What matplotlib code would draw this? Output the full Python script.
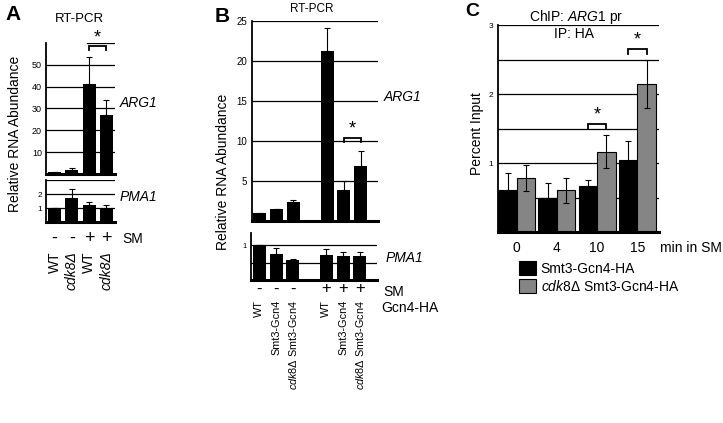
import numpy as np
import matplotlib.pyplot as plt
from matplotlib.transforms import blended_transform_factory

plt.rcParams['font.family'] = ['Liberation Sans', 'DejaVu Sans']
plt.rcParams['mathtext.fontset'] = 'custom'
plt.rcParams['mathtext.rm'] = 'Liberation Sans'
plt.rcParams['mathtext.it'] = 'Liberation Sans:italic'

# ---- panel A data ----
a_pos = [0, 1, 2, 3]
a_arg1 = [1.1, 1.8, 41.0, 27.0]
a_arg1_err = [0.0, 0.8, 12.5, 6.8]
a_pma1 = [1.0, 1.74, 1.24, 0.95]
a_pma1_err = [0.0, 0.64, 0.2, 0.25]
a_sm = ['-', '-', '+', '+']
a_strain = ['WT', 'cdk8Δ', 'WT', 'cdk8Δ']
a_strain_it = [False, True, False, True]
a_sig = (2, 3, 56.6, 58.5)   # bar i, bar j, tick bottom, bracket top

# ---- panel B data ----
b_pos = [0, 1, 2, 4, 5, 6]
b_arg1 = [1.05, 1.55, 2.4, 21.2, 3.9, 6.9]
b_arg1_err = [0.0, 0.0, 0.2, 2.9, 1.1, 1.9]
b_pma1 = [1.0, 0.76, 0.59, 0.73, 0.68, 0.70]
b_pma1_err = [0.0, 0.16, 0.01, 0.17, 0.13, 0.12]
b_sm = ['-', '-', '-', '+', '+', '+']
b_strain = ['WT', 'Smt3-Gcn4', r'$\it{cdk8Δ}$ Smt3-Gcn4',
            'WT', 'Smt3-Gcn4', r'$\it{cdk8Δ}$ Smt3-Gcn4']
b_sig = (4, 5, 9.9, 10.4)

# ---- panel C data ----
c_times = ['0', '4', '10', '15']
c_wt = [0.61, 0.50, 0.67, 1.05]
c_wt_err = [0.25, 0.21, 0.09, 0.27]
c_cdk8 = [0.79, 0.61, 1.17, 2.15]
c_cdk8_err = [0.19, 0.18, 0.24, 0.35]
c_sig = [(2, 1.49, 1.57), (3, 2.58, 2.66)]

W, H = 723, 423


def box(l, t, r, b):
    return [l / W, 1 - b / H, (r - l) / W, (b - t) / H]


def fy(y):
    return 1 - y / H


def style(ax, tick_size):
    for s in ['top', 'right']:
        ax.spines[s].set_visible(False)
    ax.spines['left'].set_linewidth(1.3)
    ax.spines['bottom'].set_linewidth(2.2)
    ax.tick_params(axis='both', length=0, labelsize=tick_size, pad=3)
    ax.set_xticks([])
    ax.yaxis.grid(True, color='black', lw=0.9)
    ax.set_axisbelow(True)


def bracket(ax, x1, x2, y0, y1):
    ax.plot([x1, x1, x2, x2], [y0, y1, y1, y0], color='black', lw=1.3,
            clip_on=False, solid_joinstyle='miter')
    ax.text((x1 + x2) / 2, y1, '*', ha='center', va='bottom', fontsize=13,
            clip_on=False)


ekw = dict(ecolor='black', lw=0.8, capsize=2, capthick=0.8)

fig = plt.figure(figsize=(W / 100, H / 100), dpi=100)

# ================= panel A =================
axA = fig.add_axes(box(46, 43, 115, 174))
style(axA, 6.5)
axA.bar(a_pos, a_arg1, 0.75, color='black',
        yerr=[np.zeros(4), a_arg1_err], error_kw=ekw)
axA.set_xlim(-0.5, 3.5)
axA.set_ylim(0, 60)
axA.set_yticks([10, 20, 30, 40, 50])
axA.axhline(60, xmin=0.6, color='black', lw=0.9)
bracket(axA, a_pos[a_sig[0]], a_pos[a_sig[1]], a_sig[2], a_sig[3])

axA2 = fig.add_axes(box(46, 180, 115, 222.3))
style(axA2, 6)
axA2.bar(a_pos, a_pma1, 0.75, color='black',
         yerr=[np.zeros(4), a_pma1_err], error_kw=ekw)
axA2.set_xlim(-0.5, 3.5)
axA2.set_ylim(0, 3)
axA2.set_yticks([1, 2, 3])
axA2.set_yticklabels(['1', '2', ''])

trA = blended_transform_factory(axA2.transData, fig.transFigure)
for x, s, lab, it in zip(a_pos, a_sm, a_strain, a_strain_it):
    axA2.text(x, fy(238), s, transform=trA, ha='center', va='center',
              fontsize=13)
    axA2.text(x, fy(251), lab, transform=trA, ha='center', va='top',
              rotation=90, fontsize=10, style='italic' if it else 'normal')
fig.text(122.5 / W, fy(239), 'SM', ha='left', va='center', fontsize=10)

fig.text(5 / W, fy(14), 'A', fontsize=15, fontweight='bold', va='center')
fig.text(79 / W, fy(19), 'RT-PCR', ha='center', va='center', fontsize=9.5)
fig.text(15 / W, fy(133.5), 'Relative RNA Abundance', rotation=90,
         ha='center', va='center', fontsize=10)
fig.text(120 / W, fy(103), 'ARG1', style='italic', va='center', fontsize=10)
fig.text(120 / W, fy(197), 'PMA1', style='italic', va='center', fontsize=10)

# ================= panel B =================
axB = fig.add_axes(box(251.5, 21, 378, 221))
style(axB, 7)
axB.bar(b_pos, b_arg1, 0.78, color='black',
        yerr=[np.zeros(6), b_arg1_err], error_kw=ekw)
axB.set_xlim(-0.5, 7.03)
axB.set_ylim(0, 25)
axB.set_yticks([5, 10, 15, 20, 25])
bracket(axB, b_pos[b_sig[0]], b_pos[b_sig[1]], b_sig[2], b_sig[3])

axB2 = fig.add_axes(box(251, 232.5, 377, 280))
style(axB2, 5.5)
axB2.bar(b_pos, b_pma1, 0.78, color='black',
         yerr=[np.zeros(6), b_pma1_err], error_kw=ekw)
axB2.set_xlim(-0.5, 7.03)
axB2.set_ylim(0, 1.37)
axB2.set_yticks([0.5, 1])
axB2.set_yticklabels(['', '1'])

trB = blended_transform_factory(axB2.transData, fig.transFigure)
for x, s, lab in zip(b_pos, b_sm, b_strain):
    axB2.text(x, fy(289), s, transform=trB, ha='center', va='center',
              fontsize=12)
    axB2.text(x, fy(300), lab, transform=trB, ha='center', va='top',
              rotation=90, fontsize=7.8)
fig.text(383 / W, fy(292), 'SM', ha='left', va='center', fontsize=10)
fig.text(381.5 / W, fy(308), 'Gcn4-HA', ha='left', va='center', fontsize=10)

fig.text(215 / W, fy(16), 'B', fontsize=15, fontweight='bold', va='center')
fig.text(311.5 / W, fy(8.5), 'RT-PCR', ha='center', va='center', fontsize=8.5)
fig.text(223 / W, fy(172), 'Relative RNA Abundance', rotation=90,
         ha='center', va='center', fontsize=10)
fig.text(384 / W, fy(97), 'ARG1', style='italic', va='center', fontsize=10)
fig.text(386 / W, fy(258), 'PMA1', style='italic', va='center', fontsize=10)

# ================= panel C =================
axC = fig.add_axes(box(497.5, 25, 659, 232.5))
style(axC, 6)
cx = np.arange(len(c_times))
bw = 0.46
axC.bar(cx - bw / 2, c_wt, bw, color='black', edgecolor='black', lw=0.8,
        yerr=c_wt_err, error_kw=ekw, label='Smt3-Gcn4-HA')
axC.bar(cx + bw / 2, c_cdk8, bw, color='#858585', edgecolor='black', lw=0.8,
        yerr=c_cdk8_err, error_kw=ekw,
        label=r'$\it{cdk8Δ}$ Smt3-Gcn4-HA')
axC.set_xlim(-0.48, 3.54)
axC.set_ylim(0, 3)
axC.set_yticks([0.5, 1, 1.5, 2, 2.5, 3])
axC.set_yticklabels(['', '1', '', '2', '', '3'])
axC.set_xticks(cx)
axC.set_xticklabels(c_times, fontsize=10)
axC.tick_params(axis='x', pad=6)
for i, y0, y1 in c_sig:
    bracket(axC, cx[i] - bw / 2, cx[i] + bw / 2, y0, y1)

fig.text(660 / W, fy(248), 'min in SM', ha='left', va='center', fontsize=10)
fig.text(465 / W, fy(11), 'C', fontsize=14, fontweight='bold', va='center')
fig.text(576 / W, fy(16.5), r'ChIP: $\it{ARG1}$ pr', ha='center',
         va='center', fontsize=10)
fig.text(574 / W, fy(34), 'IP: HA', ha='center', va='center', fontsize=10)
fig.text(477.5 / W, fy(134), 'Percent Input', rotation=90, ha='center',
         va='center', fontsize=10)

axC.legend(loc='upper left', bbox_to_anchor=(519 / W, fy(261)),
           bbox_transform=fig.transFigure, frameon=False, fontsize=10,
           handlelength=1.2, handleheight=1.2, handletextpad=0.35,
           labelspacing=0.2, borderpad=0, borderaxespad=0)

fig.savefig('out.png', dpi=100)
